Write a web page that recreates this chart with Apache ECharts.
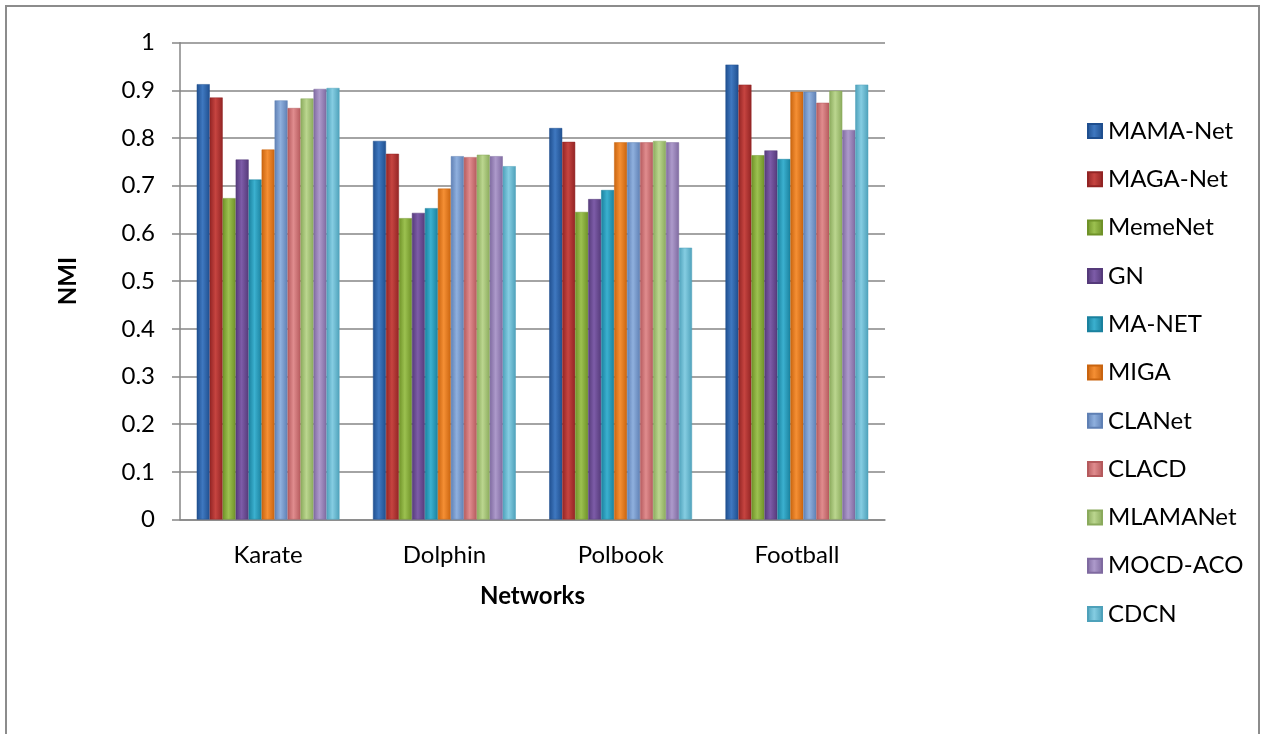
<!DOCTYPE html>
<html>
<head>
<meta charset="utf-8">
<script src="https://cdn.jsdelivr.net/npm/echarts@6/dist/echarts.min.js"></script>
<style>
html,body{margin:0;padding:0;background:#fff;}
#chart{width:1263px;height:734px;}
</style>
</head>
<body>
<div id="chart"></div>
<script>
const categories = ['Karate', 'Dolphin', 'Polbook', 'Football'];
const seriesNames = ['MAMA-Net','MAGA-Net','MemeNet','GN','MA-NET','MIGA','CLANet','CLACD','MLAMANet','MOCD-ACO','CDCN'];
const mamaNet  = [0.913, 0.794, 0.821, 0.954];
const magaNet  = [0.885, 0.767, 0.792, 0.912];
const memeNet  = [0.674, 0.632, 0.645, 0.764];
const gn       = [0.755, 0.643, 0.672, 0.774];
const maNet    = [0.713, 0.653, 0.691, 0.756];
const miga     = [0.776, 0.694, 0.791, 0.897];
const claNet   = [0.879, 0.762, 0.791, 0.897];
const clacd    = [0.863, 0.760, 0.791, 0.874];
const mlamaNet = [0.883, 0.765, 0.794, 0.899];
const mocdAco  = [0.903, 0.762, 0.791, 0.817];
const cdcn     = [0.905, 0.741, 0.570, 0.912];
const yTicks = [0, 0.1, 0.2, 0.3, 0.4, 0.5, 0.6, 0.7, 0.8, 0.9, 1];

const seriesData = [mamaNet, magaNet, memeNet, gn, maNet, miga, claNet, clacd, mlamaNet, mocdAco, cdcn];
const baseColors = [
  ['#1f4f8f','#3f78c0'],
  ['#922424','#c64440'],
  ['#6f9228','#9cc150'],
  ['#553a7a','#7d5ca8'],
  ['#1a819e','#3bb0cf'],
  ['#c9640f','#f58f34'],
  ['#5f80b4','#8fb0de'],
  ['#b55a5d','#e08c8e'],
  ['#8aaa5c','#bbd68f'],
  ['#7f6aa0','#ad9acb'],
  ['#4ea1ba','#85cde2']
];

function grad(c) {
  return new echarts.graphic.LinearGradient(0, 0, 1, 0, [
    {offset: 0, color: c[0]},
    {offset: 0.45, color: c[1]},
    {offset: 1, color: c[0]}
  ]);
}

const FONT = 'Lato';
const chart = echarts.init(document.getElementById('chart'), null, {renderer: 'canvas'});
chart.setOption({
  animation: false,
  textStyle: {fontFamily: FONT},
  graphic: [{
    type: 'rect',
    shape: {x: 6, y: 6, width: 1253, height: 740},
    style: {fill: 'none', stroke: '#8c8c8c', lineWidth: 2},
    z: -1
  }],
  grid: {left: 180, right: 378, top: 42.7, bottom: 214.5, containLabel: false},
  legend: {
    orient: 'vertical',
    left: 1082,
    top: 114,
    itemWidth: 14,
    itemHeight: 14,
    itemGap: 24.3,
    icon: 'rect',
    textStyle: {fontFamily: FONT, fontSize: 24, color: '#000', lineHeight: 24, padding: [0,0,0,1]},
    data: seriesNames
  },
  xAxis: {
    type: 'category',
    data: categories,
    name: 'Networks',
    nameLocation: 'middle',
    nameGap: 65,
    nameTextStyle: {fontFamily: FONT, fontSize: 24, fontWeight: 'bold', color: '#000'},
    axisLine: {lineStyle: {color: '#868686', width: 1.5}},
    axisTick: {show: false},
    axisLabel: {fontFamily: FONT, fontSize: 24, color: '#000', margin: 24}
  },
  yAxis: {
    type: 'value',
    min: 0,
    max: 1,
    interval: 0.1,
    name: 'NMI',
    nameLocation: 'middle',
    nameGap: 100,
    nameRotate: 90,
    nameTextStyle: {fontFamily: FONT, fontSize: 24, fontWeight: 'bold', color: '#000'},
    axisLine: {show: true, lineStyle: {color: '#868686', width: 1.5}},
    axisTick: {show: true, inside: false, length: 8, lineStyle: {color: '#868686', width: 1.5}},
    splitLine: {lineStyle: {color: '#868686', width: 1.5}},
    axisLabel: {
      fontFamily: FONT, fontSize: 24, color: '#000', margin: 25,
      formatter: function (v) {
        const t = yTicks.find(function (x) { return Math.abs(x - v) < 1e-6; });
        return t === undefined ? '' : String(t);
      }
    }
  },
  series: seriesNames.map(function (name, i) {
    return {
      name: name,
      type: 'bar',
      data: seriesData[i],
      barGap: '0%',
      barCategoryGap: '19%',
      itemStyle: {color: grad(baseColors[i]), borderColor: baseColors[i][0], borderWidth: 0.5}
    };
  })
});
</script>
</body>
</html>
